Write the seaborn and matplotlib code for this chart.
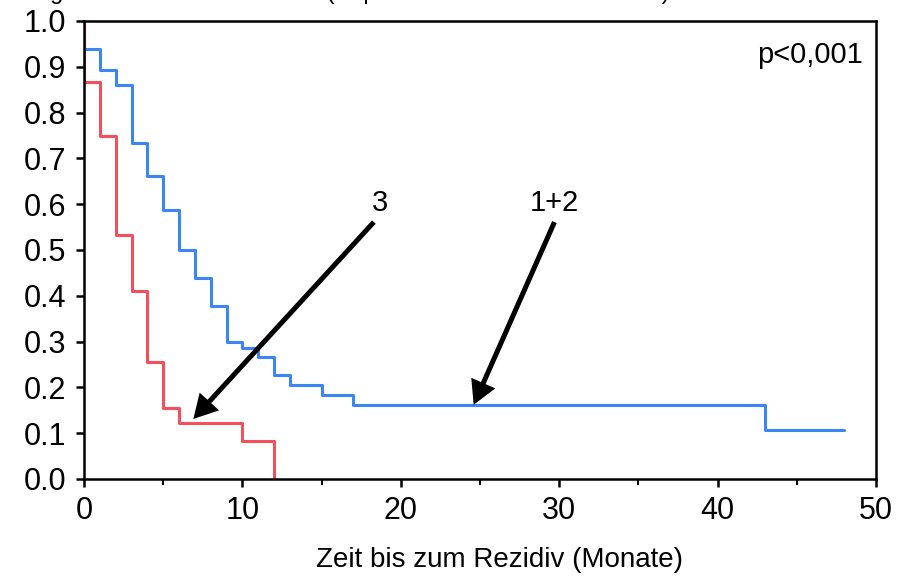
import matplotlib
matplotlib.use("Agg")
import matplotlib.pyplot as plt
import seaborn as sns
import pandas as pd
from matplotlib.ticker import MultipleLocator, FormatStrFormatter

# ---- data (Kaplan-Meier step curves) ----
group_names = ["1+2", "3"]
months_12 = [0, 0, 1, 2, 3, 4, 5, 6, 7, 8, 9, 10, 11, 12, 13, 15, 17, 43, 48]
surv_12 = [1.0, 0.938, 0.893, 0.86, 0.733, 0.661, 0.588, 0.50, 0.438, 0.378,
           0.30, 0.285, 0.266, 0.227, 0.205, 0.183, 0.162, 0.106, 0.106]
months_3 = [0, 0, 1, 2, 3, 4, 5, 6, 10, 12]
surv_3 = [1.0, 0.867, 0.75, 0.533, 0.41, 0.256, 0.155, 0.123, 0.082, 0.0]

x_ticks = [0, 10, 20, 30, 40, 50]
p_text = "p<0,001"
x_label = "Zeit bis zum Rezidiv (Monate)"
top_text = "geschätzte Rezidivfreiheit (Kaplan-Meier-Überlebenskurve)"

df = pd.concat([
    pd.DataFrame({"Monate": months_12, "Anteil": surv_12, "Gruppe": group_names[0]}),
    pd.DataFrame({"Monate": months_3, "Anteil": surv_3, "Gruppe": group_names[1]}),
], ignore_index=True)

sns.set_style("ticks")
plt.rcParams["font.family"] = ["Liberation Sans", "DejaVu Sans"]
plt.rcParams["text.color"] = "black"
plt.rcParams["axes.labelcolor"] = "black"

W, H = 898, 581
fig = plt.figure(figsize=(W / 100, H / 100), dpi=100)
ax = fig.add_axes([84 / W, 1 - 479 / H, (876 - 84) / W, (479 - 21) / H])

palette = {group_names[0]: "#3a86f4", group_names[1]: "#f4505c"}
sns.lineplot(data=df, x="Monate", y="Anteil", hue="Gruppe", palette=palette,
             estimator=None, sort=False, drawstyle="steps-post",
             linewidth=2.2, legend=False, ax=ax)

ax.set_xlim(0, 50)
ax.set_ylim(0, 1.0)
ax.set_xticks(x_ticks)
ax.xaxis.set_minor_locator(MultipleLocator(5))
ax.yaxis.set_major_locator(MultipleLocator(0.1))
ax.yaxis.set_major_formatter(FormatStrFormatter("%.1f"))

for s in ax.spines.values():
    s.set_visible(True)
    s.set_linewidth(1.8)
    s.set_color("black")

ax.tick_params(axis="both", which="major", direction="out", length=6,
               width=1.8, labelsize=22, colors="black", labelcolor="black")
ax.tick_params(axis="y", which="major", pad=7)
ax.tick_params(axis="x", which="major", pad=6)
ax.tick_params(axis="x", which="minor", direction="out", length=4, width=1.5,
               colors="black")

ax.set_ylabel("")
ax.set_xlabel(x_label, fontsize=20, color="black")
ax.xaxis.set_label_coords(0.524, -0.148)

ax.text(49.2, 0.926, p_text, ha="right", va="center", fontsize=21, color="black")

arrow_style = "simple,head_length=0.95,head_width=1.05,tail_width=0.2"
ax.annotate("", xy=(6.9, 0.131), xytext=(18.3, 0.561),
            arrowprops=dict(arrowstyle=arrow_style, color="black", lw=0,
                            shrinkA=0, shrinkB=0, mutation_scale=18))
ax.annotate("", xy=(24.6, 0.162), xytext=(29.7, 0.561),
            arrowprops=dict(arrowstyle=arrow_style, color="black", lw=0,
                            shrinkA=0, shrinkB=0, mutation_scale=18))
ax.text(18.67, 0.603, group_names[1], ha="center", va="center", fontsize=21,
        color="black")
ax.text(29.68, 0.603, group_names[0], ha="center", va="center", fontsize=21,
        color="black")

# title cut off by the top edge, as in the reference
fig.text(50 / W, 1 + 1 / H, top_text, ha="left", va="baseline", fontsize=17,
         color="black")

fig.savefig("out.png", dpi=100)
